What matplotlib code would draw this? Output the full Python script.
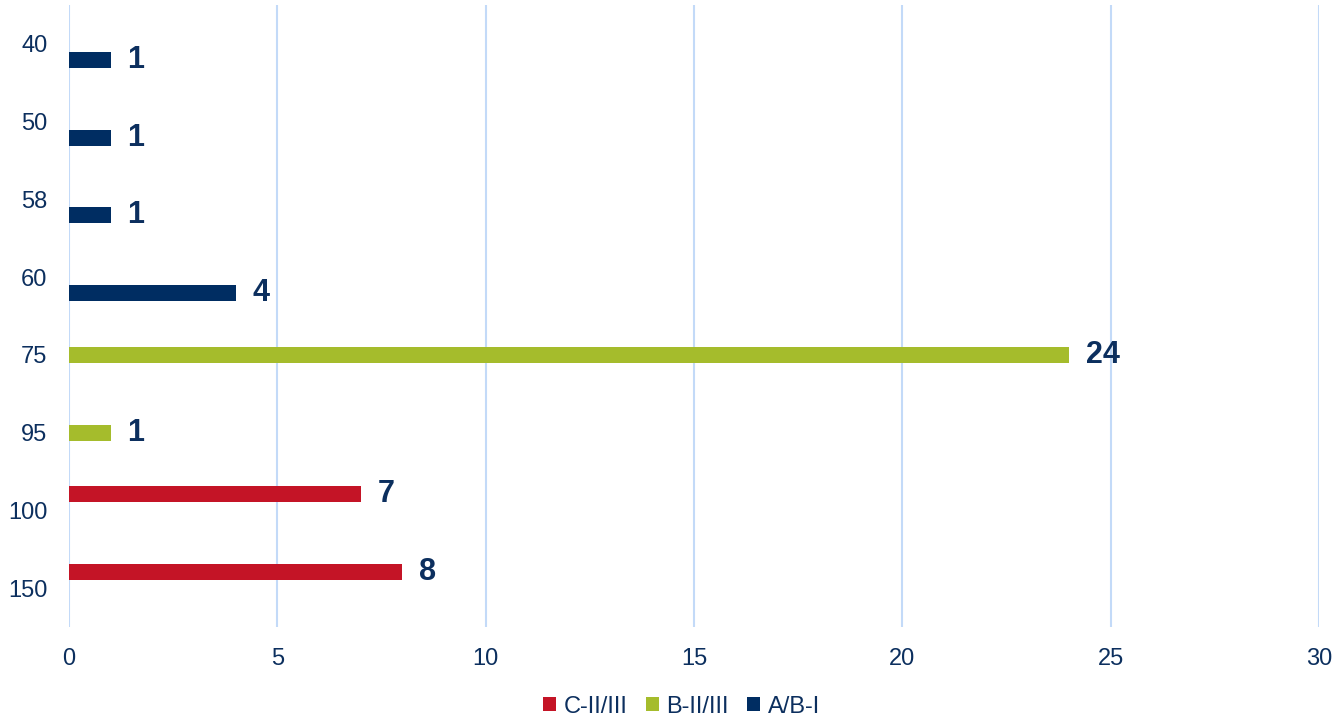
import matplotlib.pyplot as plt
import numpy as np

plt.rcParams['font.family'] = ['Liberation Sans', 'DejaVu Sans']

categories = ['40', '50', '58', '60', '75', '95', '100', '150']
series_names = ['C-II/III', 'B-II/III', 'A/B-I']
c_vals = [0, 0, 0, 0, 0, 0, 7, 8]
b_vals = [0, 0, 0, 0, 24, 1, 0, 0]
a_vals = [1, 1, 1, 4, 0, 0, 0, 0]

colors = ['#C41426', '#A5BC2C', '#002D62']
navy = '#0C2F5E'
grid_col = '#C3DAF8'

fig = plt.figure(figsize=(13.32, 7.21), dpi=100)
ax = fig.add_axes([69 / 1332, 94 / 721, 1250 / 1332, 622 / 721])

y = np.arange(len(categories))
h = 0.206
offsets = [-h, 0, h]

for vals, off, col, name in zip([c_vals, b_vals, a_vals], offsets, colors, series_names):
    vals = np.array(vals, dtype=float)
    mask = vals > 0
    ax.barh(y[mask] + off, vals[mask], height=h, color=col, label=name, zorder=3)
    for yy, v in zip(y[mask] + off, vals[mask]):
        ax.annotate(f'{int(v)}', (v, yy), xytext=(12, 0), textcoords='offset points',
                    ha='left', va='center', fontsize=22, fontweight='bold', color=navy)

ax.set_xlim(0, 30)
ax.set_ylim(len(categories) - 0.5, -0.5)
ax.set_xticks(np.arange(0, 31, 5))
ax.set_yticks(y)
ax.set_yticklabels(categories)
ax.tick_params(axis='both', length=0, labelsize=17, labelcolor=navy)
ax.tick_params(axis='y', pad=15.5)
ax.tick_params(axis='x', pad=15)
ax.xaxis.grid(True, color=grid_col, linewidth=1.5, zorder=0)
for s in ax.spines.values():
    s.set_visible(False)

ax.legend(loc='lower center', bbox_to_anchor=(0.49, -0.18), ncol=3, frameon=False,
          fontsize=17, handlelength=0.55, handleheight=0.55, handletextpad=0.3,
          columnspacing=0.8, labelcolor=navy)

fig.savefig('out.png', dpi=100)
